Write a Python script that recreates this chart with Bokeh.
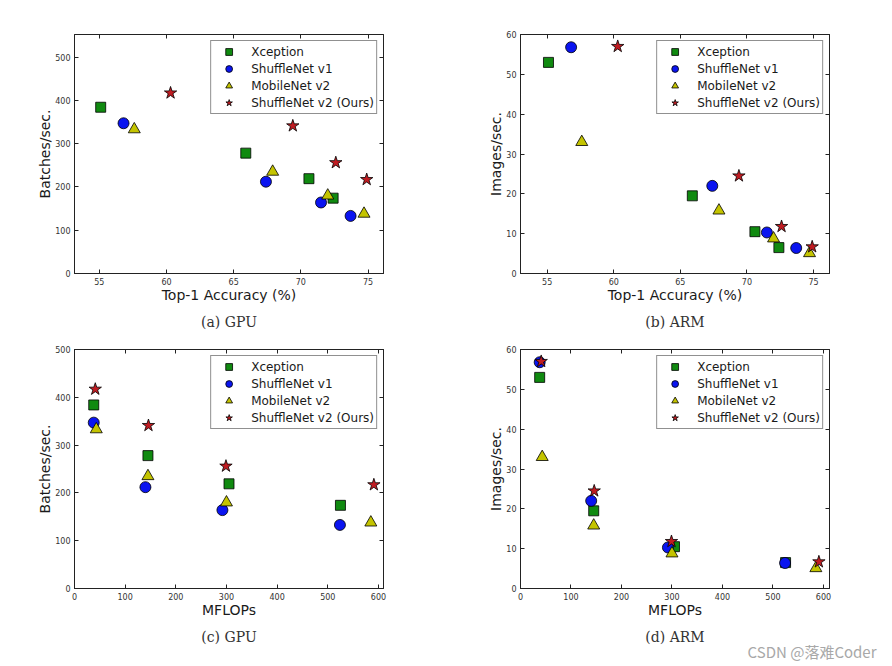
from bokeh.plotting import figure
from bokeh.models import (Range1d, FixedTicker, LinearAxis, Legend, LegendItem,
                          Title, CustomJSTickFormatter)
from bokeh.layouts import column, row
from bokeh.embed import file_html
from bokeh.resources import INLINE

# ---------------- data ----------------
models = ["Xception", "ShuffleNet v1", "MobileNet v2", "ShuffleNet v2 (Ours)"]

acc_xception = [55.1, 65.9, 70.6, 72.4]
acc_shufflev1 = [56.8, 67.4, 71.5, 73.7]
acc_mobilev2 = [57.6, 67.9, 72.0, 74.7]
acc_shufflev2 = [60.3, 69.4, 72.6, 74.9]

flops_xception = [38, 145, 305, 525]
flops_shufflev1 = [38, 140, 292, 524]
flops_mobilev2 = [43, 145, 300, 585]
flops_shufflev2 = [41, 146, 299, 591]

gpu_xception = [384, 278, 219, 174]
gpu_shufflev1 = [347, 212, 164, 133]
gpu_mobilev2 = [333, 235, 180, 138]
gpu_shufflev2 = [417, 341, 256, 217]

arm_xception = [53.0, 19.5, 10.5, 6.5]
arm_shufflev1 = [56.8, 22.0, 10.3, 6.4]
arm_mobilev2 = [33.0, 15.8, 8.8, 5.1]
arm_shufflev2 = [57.0, 24.5, 11.8, 6.7]

acc_ticks = [55, 60, 65, 70, 75]
flops_ticks = [0, 100, 200, 300, 400, 500, 600]
gpu_ticks = [0, 100, 200, 300, 400, 500]
arm_ticks = [0, 10, 20, 30, 40, 50, 60]

captions = ["(a) GPU", "(b) ARM", "(c) GPU", "(d) ARM"]
watermark = "CSDN @落难Coder"

acc = [acc_xception, acc_shufflev1, acc_mobilev2, acc_shufflev2]
flops = [flops_xception, flops_shufflev1, flops_mobilev2, flops_shufflev2]
gpu = [gpu_xception, gpu_shufflev1, gpu_mobilev2, gpu_shufflev2]
arm = [arm_xception, arm_shufflev1, arm_mobilev2, arm_shufflev2]

# ---------------- style ----------------
markers = ["square", "circle", "triangle", "star"]
colors = ["#108a10", "#0a14f0", "#c4c400", "#c01c22"]
sizes = [10, 11, 12, 13]

FRAME_W, FRAME_H = 309, 239
SANS = "DejaVu Sans"


def style_axis(ax, ticks, labels=True):
    ax.ticker = FixedTicker(ticks=ticks)
    ax.axis_line_color = "#222222"
    ax.major_tick_line_color = "#222222"
    ax.major_tick_in = 4
    ax.major_tick_out = 0
    ax.minor_tick_in = 0
    ax.minor_tick_out = 0
    ax.major_label_text_font = SANS
    ax.major_label_text_font_size = "8px"
    ax.major_label_text_color = "#333333"
    ax.major_label_standoff = 4
    if not labels:
        ax.formatter = CustomJSTickFormatter(code="return ''")
        ax.major_label_standoff = 0


def panel(xs, ys, xr, yr, xticks, yticks, xlabel, ylabel, caption,
          border_top, border_right, border_bottom, mark=None):
    p = figure(frame_width=FRAME_W, frame_height=FRAME_H,
               x_range=Range1d(*xr), y_range=Range1d(*yr),
               output_backend="svg", toolbar_location=None,
               min_border_left=74, min_border_right=border_right,
               min_border_top=border_top, min_border_bottom=border_bottom,
               background_fill_color="white", border_fill_color="white",
               outline_line_color="#222222")
    p.grid.visible = False
    style_axis(p.xaxis[0], xticks)
    style_axis(p.yaxis[0], yticks)
    for ax, lab in ((p.xaxis[0], xlabel), (p.yaxis[0], ylabel)):
        ax.axis_label = lab
        ax.axis_label_text_font = SANS
        ax.axis_label_text_font_size = "14px"
        ax.axis_label_text_font_style = "normal"
        ax.axis_label_text_color = "#1a1a1a"
        ax.axis_label_standoff = -1
    top = LinearAxis()
    style_axis(top, xticks, labels=False)
    p.add_layout(top, "above")
    right = LinearAxis()
    style_axis(right, yticks, labels=False)
    p.add_layout(right, "right")

    items = []
    for name, x, y, m, c, s in zip(models, xs, ys, markers, colors, sizes):
        r = p.scatter(x, y, marker=m, size=s, fill_color=c,
                      line_color="black", line_width=0.8)
        items.append(LegendItem(label=name, renderers=[r]))
    leg = Legend(items=items, location="top_right", margin=6, padding=2,
                 spacing=0, glyph_width=31, glyph_height=17, label_height=17,
                 label_standoff=7, label_text_font=SANS,
                 label_text_font_size="12px", label_text_color="#1a1a1a",
                 border_line_color="#222222", border_line_width=1,
                 background_fill_color="white", background_fill_alpha=1)
    p.add_layout(leg)

    p.add_layout(Title(text=caption, align="center", standoff=12,
                       text_font="DejaVu Serif", text_font_size="14px",
                       text_font_style="normal", text_color="#333333"),
                 "below")
    if mark:
        p.add_layout(Title(text=mark, align="right", offset=-47, standoff=-20,
                           vertical_align="top",
                           text_font="Noto Sans CJK SC",
                           text_font_size="15px", text_font_style="normal",
                           text_color="#a8a8a8"),
                     "below")
    return p


p1 = panel(acc, gpu, (53.15, 76.15), (0, 552), acc_ticks, gpu_ticks,
           "Top-1 Accuracy (%)", "Batches/sec.", captions[0], 34, 63, 64)
p2 = panel(acc, arm, (53.0, 76.2), (0, 60), acc_ticks, arm_ticks,
           "Top-1 Accuracy (%)", "Images/sec.", captions[1], 34, 58, 64)
p3 = panel(flops, gpu, (0, 610), (0, 500), flops_ticks, gpu_ticks,
           "MFLOPs", "Batches/sec.", captions[2], 12, 63, 74)
p4 = panel(flops, arm, (0, 612), (0, 60), flops_ticks, arm_ticks,
           "MFLOPs", "Images/sec.", captions[3], 12, 58, 74, mark=watermark)

layout = column(row(p1, p2), row(p3, p4))

open("out.html", "w").write(file_html(layout, INLINE))
